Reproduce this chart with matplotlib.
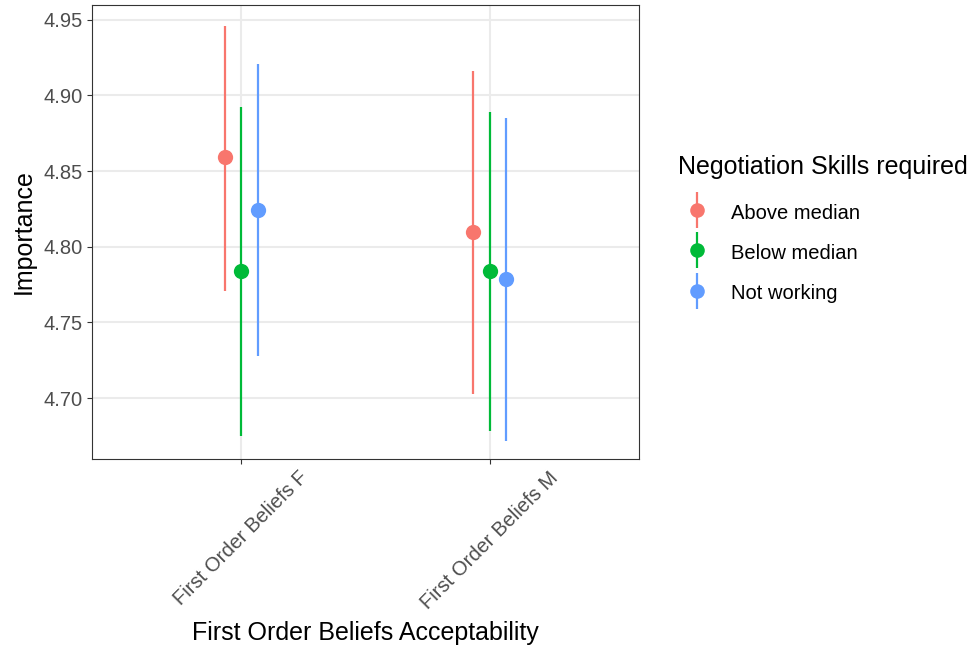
import matplotlib.pyplot as plt
from matplotlib.lines import Line2D
from matplotlib.legend_handler import HandlerTuple
import numpy as np

plt.rcParams['font.family'] = ['Liberation Sans', 'DejaVu Sans']

# - DATA -
categories = ["First Order Beliefs F", "First Order Beliefs M"]
groups = ["Above median", "Below median", "Not working"]
colors = ["#F8766D", "#00BA38", "#619CFF"]

means = {
    "Above median": [4.859, 4.810],
    "Below median": [4.784, 4.784],
    "Not working":  [4.824, 4.779],
}
lower = {
    "Above median": [4.771, 4.703],
    "Below median": [4.675, 4.678],
    "Not working":  [4.728, 4.672],
}
upper = {
    "Above median": [4.946, 4.916],
    "Below median": [4.892, 4.889],
    "Not working":  [4.921, 4.885],
}
yticks = [4.70, 4.75, 4.80, 4.85, 4.90, 4.95]
# - DATA -

fig = plt.figure(figsize=(9.79, 6.49), dpi=100)
ax = fig.add_axes([92/979, 1 - 459/649, (639-92)/979, (459-5)/649])

x = np.arange(1, len(categories) + 1)
dodge = 0.2 / len(groups)

for i, (g, c) in enumerate(zip(groups, colors)):
    xs = x + (i - 1) * dodge
    ax.vlines(xs, lower[g], upper[g], color=c, linewidth=1.6, zorder=3)
    ax.plot(xs, means[g], 'o', color=c, markersize=11, markeredgewidth=0, zorder=4)

ax.set_xlim(0.4, 2.6)
ax.set_ylim(4.6598, 4.9597)
ax.set_xticks(x)
ax.set_xticklabels(categories, rotation=45, ha='center', va='top')
ax.set_yticks(yticks)
ax.set_yticklabels([f"{v:.2f}" for v in yticks])

ax.grid(True, color='#EBEBEB', linewidth=1.5, zorder=0)
ax.set_axisbelow(True)
for s in ax.spines.values():
    s.set_color('#333333')
    s.set_linewidth(0.8)
ax.tick_params(axis='both', length=3.5, width=0.8, color='#333333',
               labelcolor='#4D4D4D', labelsize=14.5, pad=3)

ax.set_xlabel("First Order Beliefs Acceptability", fontsize=18, labelpad=6)
ax.set_ylabel("Importance", fontsize=18, labelpad=6)

# legend keys: point with a vertical range line through it
handles = []
for c in colors:
    bar = Line2D([], [], marker='|', markersize=26, markeredgewidth=1.6,
                 color=c, linestyle='none')
    dot = Line2D([], [], marker='o', markersize=10.5, markeredgewidth=0,
                 color=c, linestyle='none')
    handles.append((bar, dot))

fig.text(678/979, 1 - 167/649, "Negotiation Skills required",
         fontsize=18, ha='left', va='center')
fig.legend(handles, groups, handler_map={tuple: HandlerTuple(ndivide=1)},
           loc='upper left', bbox_to_anchor=(660/979, 1 - 183.5/649),
           frameon=False, fontsize=14.5,
           handlelength=1.9, handleheight=1.2, handletextpad=0.75,
           labelspacing=0.95)

fig.savefig("out.png", dpi=100)
